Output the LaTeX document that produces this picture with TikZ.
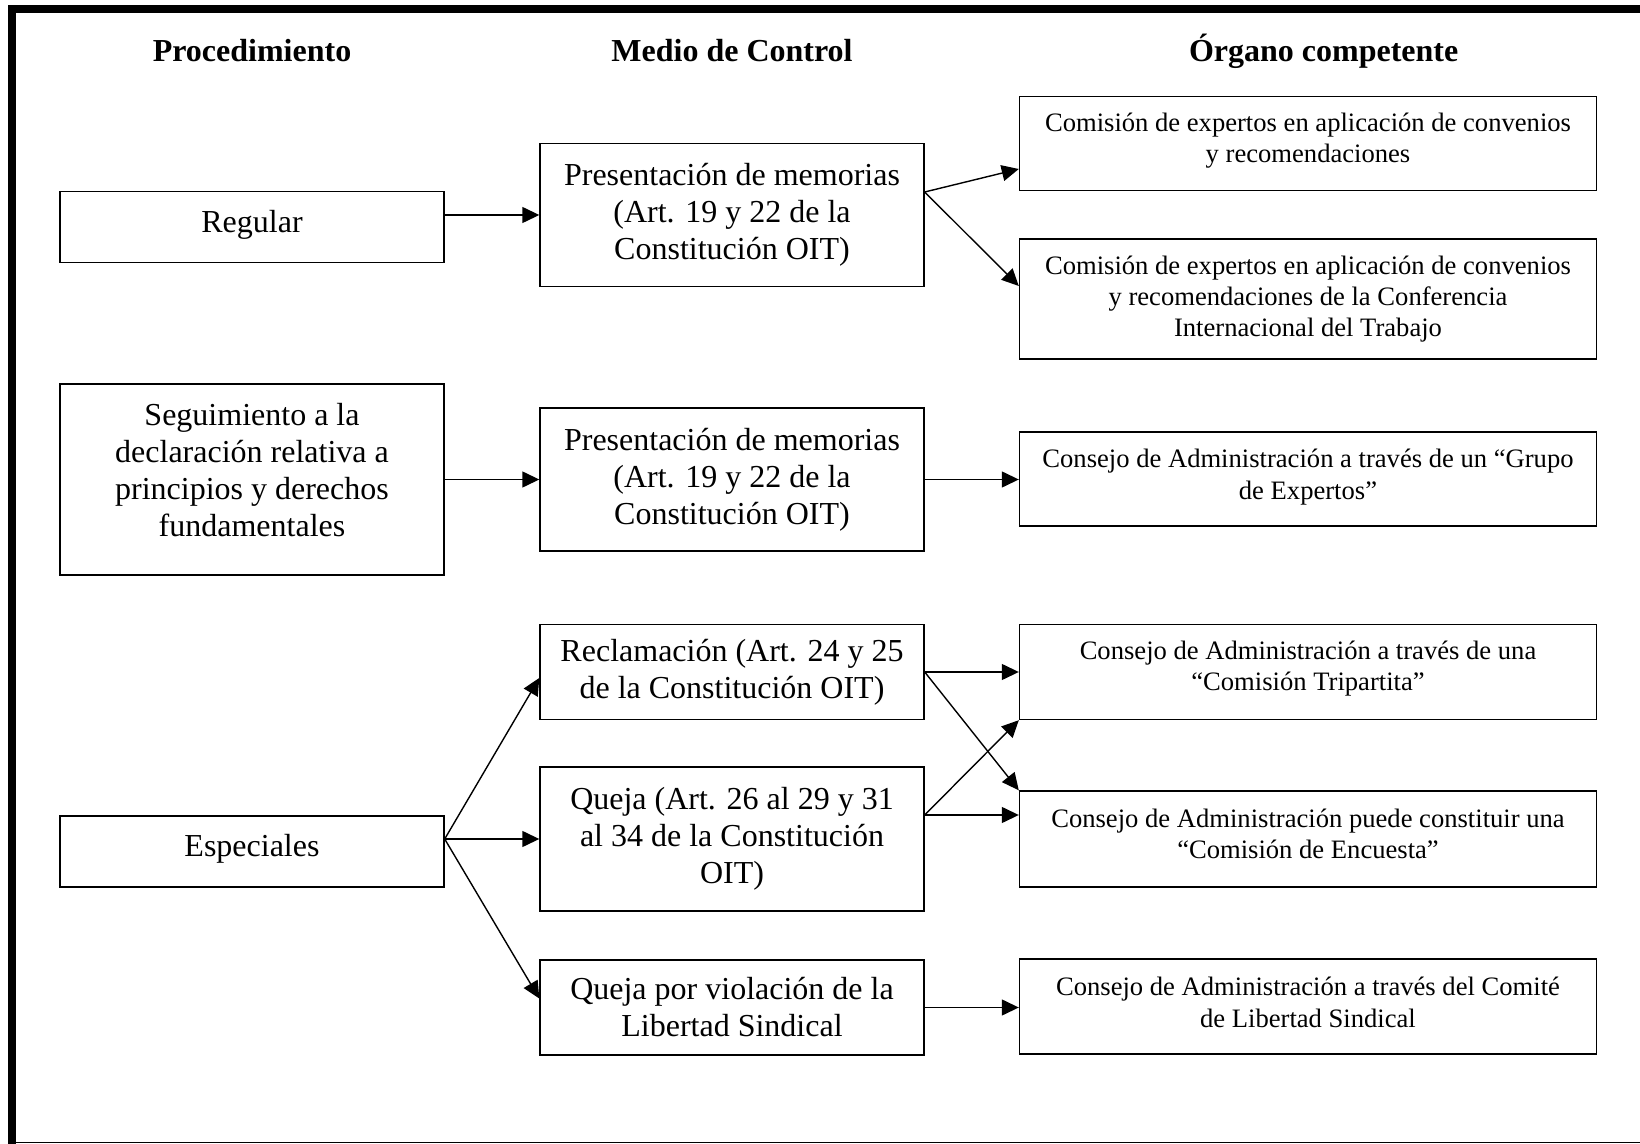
\documentclass[tikz,border=0pt]{standalone}
\usepackage{fontspec}
\setmainfont{Liberation Serif}
\usetikzlibrary{arrows.meta}

\begin{document}
\begin{tikzpicture}[
    x=0.5pt, y=-0.5pt,
    box/.style={draw, line width=0.7pt, align=center, minimum width=192pt, inner sep=2pt, font=\fontsize{16pt}{18.5pt}\selectfont},
    organo/.style={draw, line width=0.7pt, align=center, minimum width=288.5pt, inner sep=2pt, font=\fontsize{13.3pt}{15.7pt}\selectfont},
    header/.style={anchor=base, font=\fontsize{16pt}{18.5pt}\selectfont\bfseries},
    arrow/.style={-{Triangle[length=8.5pt, width=8pt]}, line width=0.7pt}
]
\useasboundingbox (0,0) rectangle (1640,1144);

% Frame
\fill (8,5) rectangle (1640,13);
\fill (8,5) rectangle (16,1144);
\draw[line width=0.6pt] (8,1142.7) -- (1640,1142.7);

% Headers
\node[header] (hproc) at (252,61.7) {Procedimiento};
\node[header] (hmedio) at (732,61.7) {Medio de Control};
\node[header] (horgano) at (1323.7,61.7) {Órgano competente};

% Procedimiento
\node[box, minimum height=35.5pt, text depth=5.5pt] (reg) at (252,227) {Regular};
\node[box, minimum height=95.5pt, text depth=9.4pt] (seg) at (252,479.5) {Seguimiento a la\\declaración relativa a\\principios y derechos\\fundamentales};
\node[box, minimum height=35.5pt, text depth=5.5pt] (esp) at (252,851.3) {Especiales};

% Medio de control
\node[box, minimum height=71.5pt] (pm1) at (732,215) {Presentación de memorias\\(Art. 19 y 22 de la\\Constitución OIT)};
\node[box, minimum height=71.5pt] (pm2) at (732,479.5) {Presentación de memorias\\(Art. 19 y 22 de la\\Constitución OIT)};
\node[box, minimum height=47.5pt] (recl) at (732,672) {Reclamación (Art. 24 y 25\\de la Constitución OIT)};
\node[box, minimum height=72pt] (queja) at (732,839) {Queja (Art. 26 al 29 y 31\\al 34 de la Constitución\\OIT)};
\node[box, minimum height=47.5pt] (qv) at (732,1007.5) {Queja por violación de la\\Libertad Sindical};

% Organo competente
\node[organo, minimum height=47.25pt, text depth=5.9pt] (c1) at (1308,143.5) {Comisión de expertos en aplicación de convenios\\y recomendaciones};
\node[organo, minimum height=60pt] (c2) at (1308,299) {Comisión de expertos en aplicación de convenios\\y recomendaciones de la Conferencia\\Internacional del Trabajo};
\node[organo, minimum height=47pt, text depth=4.9pt] (c3) at (1308,479) {Consejo de Administración a través de un “Grupo\\de Expertos”};
\node[organo, minimum height=47.5pt, text depth=6.1pt] (c4) at (1308,672) {Consejo de Administración a través de una\\“Comisión Tripartita”};
\node[organo, minimum height=48pt, text depth=5.2pt] (c5) at (1308,839) {Consejo de Administración puede constituir una\\“Comisión de Encuesta”};
\node[organo, minimum height=47.5pt, text depth=4.2pt] (c6) at (1308,1006.5) {Consejo de Administración a través del Comité\\de Libertad Sindical};

% Arrows
\draw[arrow] (reg.east |- pm1.west) -- (pm1.west);
\draw[arrow] ([yshift=11.5pt]pm1.east) -- ([yshift=-12.75pt]c1.west);
\draw[arrow] ([yshift=11.5pt]pm1.east) -- ([yshift=6.5pt]c2.west);
\draw[arrow] (seg.east) -- (seg.east -| pm2.west);
\draw[arrow] (pm2.east) -- (pm2.east -| c3.west);

\coordinate (espout) at (esp.east |- queja.west);
\draw[arrow] (espout) -- ([yshift=-3pt]recl.west);
\draw[arrow] (espout) -- (queja.west);
\draw[arrow] (espout) -- ([yshift=4.5pt]qv.west);

\coordinate (quejaout) at ([yshift=12pt]queja.east);
\draw[arrow] (recl.east) -- (c4.west);
\draw[arrow] (recl.east) -- (c5.north west);
\draw[arrow] (quejaout) -- (c4.south west);
\draw[arrow] (quejaout) -- (quejaout -| c5.west);
\draw[arrow] (qv.east) -- (qv.east -| c6.west);

\end{tikzpicture}
\end{document}
